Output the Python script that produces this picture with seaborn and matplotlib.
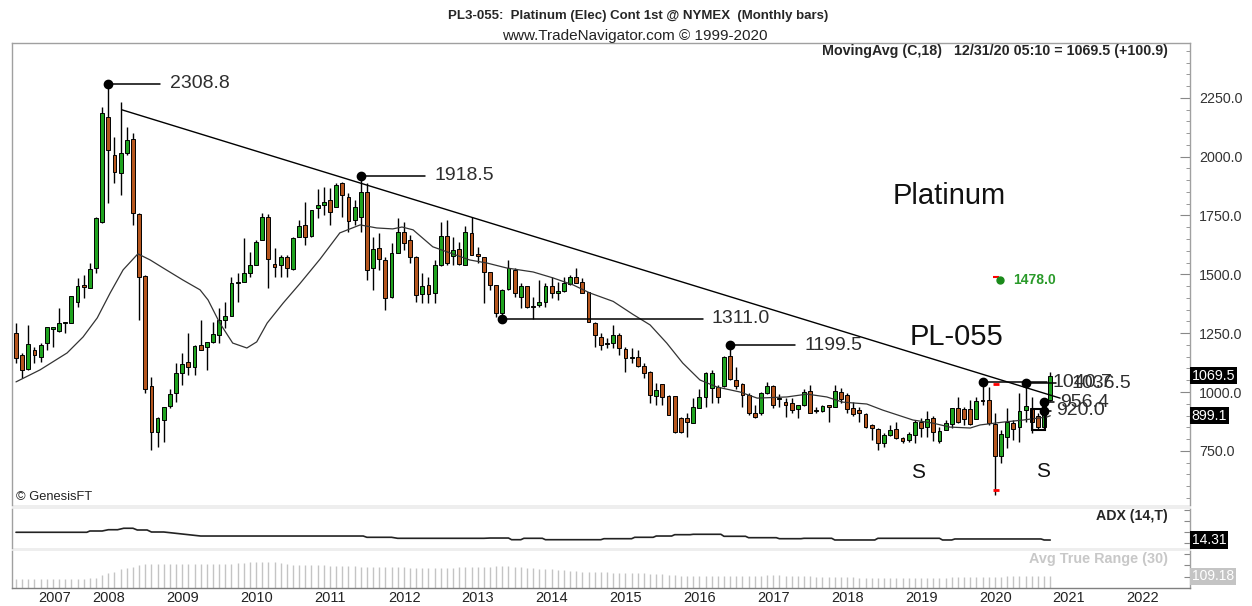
import matplotlib
matplotlib.use("Agg")
import matplotlib.pyplot as plt
from matplotlib.patches import Rectangle
from matplotlib.ticker import MultipleLocator
import seaborn as sns

sns.set_style("white")
plt.rcParams['font.family'] = ['Liberation Sans', 'DejaVu Sans']

# monthly bars, Dec 2006 .. Dec 2020
opens = [1251, 1157, 1098, 1178, 1149, 1208, 1268, 1259, 1293, 1293,
         1383, 1455, 1442, 1527, 1723, 2169, 2008, 1931, 2016, 2076,
         1757, 1493, 1026, 830, 881, 940, 996, 1081, 1127, 1106,
         1200, 1191, 1212, 1242, 1306, 1323, 1463, 1468, 1506, 1540,
         1646, 1744, 1544, 1540, 1574, 1523, 1659, 1710, 1663, 1782,
         1795, 1816, 1787, 1889, 1829, 1731, 1744, 1850, 1527, 1612,
         1561, 1404, 1591, 1680, 1646, 1574, 1417, 1455, 1421, 1540,
         1663, 1578, 1608, 1540, 1676, 1587, 1574, 1510, 1455, 1336,
         1438, 1519, 1404, 1451, 1366, 1370, 1383, 1451, 1421, 1429,
         1459, 1489, 1468, 1425, 1293, 1234, 1208, 1208, 1242, 1183,
         1145, 1149, 1111, 1085, 983, 1034, 983, 983, 889, 889,
         868, 932, 979, 1017, 1021, 1026, 1153, 1051, 1034, 987,
         911, 911, 996, 1026, 970, 957, 953, 928, 945, 1004,
         919, 919, 945, 936, 1000, 987, 932, 923, 906, 860,
         843, 783, 817, 843, 804, 796, 817, 872, 851, 889,
         792, 838, 864, 932, 928, 928, 885, 966, 966, 864,
         728, 809, 868, 851, 923, 932, 898, 851, 966]
highs = [1293, 1166, 1285, 1191, 1208, 1276, 1276, 1357, 1297, 1408,
         1485, 1497, 1548, 1744, 2212, 2308.8, 2084, 2233, 2127, 2101,
         1761, 1497, 1064, 894, 936, 1013, 1123, 1166, 1251, 1200,
         1306, 1212, 1298, 1357, 1383, 1489, 1506, 1655, 1595, 1646,
         1761, 1757, 1612, 1582, 1582, 1659, 1731, 1808, 1774, 1863,
         1872, 1867, 1889, 1893, 1846, 1816, 1918.5, 1889, 1659, 1676,
         1574, 1633, 1740, 1723, 1667, 1578, 1506, 1489, 1561, 1723,
         1731, 1659, 1638, 1706, 1744, 1616, 1574, 1510, 1455, 1438,
         1561, 1527, 1463, 1451, 1404, 1476, 1463, 1489, 1468, 1489,
         1497, 1527, 1485, 1425, 1298, 1251, 1229, 1285, 1251, 1191,
         1187, 1179, 1123, 1089, 1038, 1034, 987, 983, 894, 911,
         974, 1013, 1085, 1094, 1030, 1153, 1199.5, 1106, 1038, 996,
         945, 1000, 1043, 1030, 991, 974, 974, 945, 1013, 1030,
         936, 945, 945, 1030, 1017, 996, 957, 936, 911, 864,
         847, 826, 860, 872, 809, 830, 881, 889, 919, 898,
         851, 881, 932, 979, 936, 966, 979, 1040.7, 1021, 911,
         838, 932, 881, 996, 1036.5, 979, 911, 970, 1087]
lows = [1123, 1060, 1094, 1123, 1128, 1179, 1191, 1255, 1251, 1293,
        1361, 1400, 1442, 1506, 1719, 1804, 1889, 1838, 2008, 1710,
        1306, 996, 753, 766, 787, 930, 957, 1030, 1072, 1072,
        1179, 1094, 1208, 1208, 1272, 1323, 1383, 1468, 1489, 1540,
        1646, 1442, 1489, 1489, 1489, 1519, 1659, 1625, 1659, 1740,
        1753, 1710, 1787, 1744, 1680, 1710, 1680, 1476, 1434, 1519,
        1349, 1400, 1591, 1604, 1548, 1383, 1378, 1378, 1378, 1536,
        1540, 1540, 1540, 1540, 1582, 1548, 1378, 1434, 1320, 1311,
        1434, 1404, 1357, 1357, 1311, 1361, 1361, 1400, 1391, 1425,
        1455, 1463, 1421, 1298, 1191, 1179, 1187, 1187, 1157, 1085,
        1123, 1106, 1060, 953, 945, 945, 902, 826, 826, 809,
        868, 932, 936, 953, 953, 1021, 1051, 1013, 936, 902,
        889, 902, 991, 932, 936, 894, 911, 889, 940, 911,
        911, 915, 872, 936, 953, 911, 898, 872, 847, 796,
        753, 766, 813, 800, 783, 787, 783, 809, 809, 792,
        783, 838, 847, 868, 860, 860, 885, 945, 860, 562,
        698, 762, 796, 787, 872, 826, 838, 838, 962]
closes = [1145, 1093, 1204, 1157, 1200, 1276, 1276, 1293, 1297, 1408,
          1451, 1447, 1523, 1740, 2186, 2029, 1935, 2016, 2072, 1761,
          1489, 1013, 830, 889, 936, 991, 1081, 1119, 1106, 1196,
          1179, 1212, 1247, 1306, 1323, 1463, 1467, 1506, 1540, 1638,
          1744, 1566, 1531, 1574, 1527, 1655, 1706, 1659, 1774, 1795,
          1808, 1765, 1880, 1838, 1727, 1787, 1850, 1519, 1608, 1565,
          1400, 1591, 1680, 1633, 1574, 1412, 1451, 1417, 1540, 1663,
          1548, 1604, 1545, 1680, 1582, 1578, 1510, 1455, 1336, 1434,
          1527, 1421, 1451, 1361, 1362, 1383, 1451, 1421, 1429, 1463,
          1489, 1465, 1421, 1298, 1242, 1200, 1204, 1242, 1187, 1145,
          1145, 1111, 1081, 987, 1009, 979, 902, 830, 830, 872,
          936, 979, 1081, 1081, 979, 1149, 1055, 1026, 987, 911,
          894, 996, 1026, 945, 970, 945, 923, 945, 1000, 911,
          919, 940, 936, 1004, 970, 928, 906, 911, 851, 847,
          783, 817, 838, 804, 792, 821, 872, 847, 885, 830,
          834, 868, 932, 872, 885, 864, 962, 962, 868, 728,
          823, 872, 843, 919, 940, 872, 851, 966, 1069.5]

# 18-month moving average, read at points along the curve
ma_bars = [0, 3.9, 8.3, 10.9, 13.2, 15.3, 17.4, 19.8, 21.8, 23.9, 27.1, 29.9, 31.2,
           33.1, 35.2, 37.5, 39.1, 40.8, 43.4, 46.1, 49.4, 52.6, 55.9, 58.6, 61.2,
           62.7, 64.5, 67.7, 70.5, 73.7, 76.5, 79.7, 84.0, 87.2, 90.5, 93.2, 97.0,
           100.2, 103.0, 105.7, 108.3, 111.1, 113.9, 117.6, 120.4, 125.2, 128.5,
           131.7, 134.3, 138.2, 140.8, 145.7, 148.9, 151.7, 155.0, 156.6, 160.3,
           163.6, 167.5, 168]
ma_vals = [1043, 1094, 1166, 1234, 1315, 1421, 1519, 1587, 1561, 1527, 1476, 1434, 1391,
           1293, 1208, 1187, 1213, 1293, 1378, 1460, 1565, 1676, 1710, 1697, 1693,
           1701, 1689, 1617, 1591, 1561, 1548, 1527, 1510, 1485, 1455, 1421, 1385,
           1330, 1285, 1208, 1123, 1051, 1021, 1000, 974, 979, 991,
           979, 957, 949, 923, 881, 868, 851, 847, 860, 872,
           881, 894, 899.1]

# ADX (14,T)
adx_bars = [0, 11.5, 12, 14, 15, 16.5, 17.5, 19, 19.7, 21.3, 22, 24, 30, 56.4, 57, 61,
            62, 76, 77, 80, 80.5, 82, 82.5, 85.5, 86, 95, 95.5, 100, 100.5, 103.5, 104,
            106.5, 107, 109.5, 110, 114.5, 115, 118.5, 119, 123.5, 124, 127.5, 128,
            132.5, 133, 139.5, 140, 150, 150.5, 152, 152.5, 166.5, 167, 168]
adx_vals = [28.2, 28.2, 30.5, 30.5, 32.8, 32.8, 35.4, 35.4, 32.3, 32.3, 28.7, 28.7, 21.5,
            21.5, 19.2, 19.2, 17.4, 17.4, 17.9, 17.9, 14.9, 14.9, 17.4, 17.4, 14.9, 14.9,
            16.7, 16.7, 19.2, 19.2, 21.5, 21.5, 23.9, 23.9, 24.6, 24.6, 21.0, 21.0, 18.5,
            18.5, 16.7, 16.7, 17.4, 17.4, 14.4, 14.4, 17.4, 17.4, 14.4, 14.4, 16.2, 16.2,
            14.4, 14.31]

# Avg True Range (30), one per bar
atr = [86, 86, 88, 88, 86, 86, 88, 88, 88, 86, 88, 88, 90, 92,
       119, 139, 149, 179, 189, 199,
       222, 225, 228, 228, 228, 230, 228, 228, 226, 226, 228, 230, 230, 228, 228, 230, 232, 238,
       244, 248, 248, 246, 244,
       238,
       226, 222, 220, 218, 218, 216, 216, 212,
       208, 206, 204, 204, 202, 202, 200, 200, 198, 198,
       194, 194, 192, 192, 192, 190, 190, 192, 192, 192, 194, 196, 198, 198, 200, 202, 204, 206,
       210,
       200, 196, 192, 188, 184,
       178, 176, 174, 168,
       160, 156, 154, 152, 150, 150, 148, 146,
       142, 140, 139, 139, 138, 136, 134, 130, 126, 122,
       116, 114, 112, 112, 112, 112, 112, 112, 112, 114, 116, 118,
       118, 118, 119, 119, 119, 118, 116, 114, 112, 110, 108, 106,
       104, 102, 100, 100, 100, 98, 98, 98, 98, 96, 96, 96, 96, 96, 98, 98, 98, 98, 98, 98,
       100, 100, 100, 100, 102, 102, 102, 104, 106,
       110, 112, 114, 116, 118, 118, 116, 109.18]

# price call-outs: dot bar, value, end of leader line, text position
callout_bars = [15, 56, 79, 116, 157, 164, 167, 167]
callout_vals = [2308.8, 1918.5, 1311.0, 1199.5, 1040.7, 1036.5, 956.4, 920.0]
callout_line_end = [23.4, 66.4, 111.6, 126.5, 167.5, 169.0, 168.6, 168.2]
callout_text_x = [25, 68, 113, 128, 168.3, 171.5, 169.6, 169.0]

trend_bars = [17.2, 169.6]
trend_vals = [2199, 974]

year_labels = ['2007', '2008', '2009', '2010', '2011', '2012', '2013', '2014',
               '2015', '2016', '2017', '2018', '2019', '2020', '2021', '2022']
year_pos = [3.6, 12.4, 24.4, 36.4, 48.4, 60.4, 72.4, 84.4, 96.4, 108.4, 120.4,
            132.4, 144.4, 156.4, 168.4, 180.4]
price_ticks = [750, 1000, 1250, 1500, 1750, 2000, 2250]

GREEN = '#1fa31f'
RED = '#b5561e'
FRAME = '#a0a0a0'

bars = list(range(len(closes)))

fig = plt.figure(figsize=(12.52, 6.06), dpi=100)
ax = fig.add_axes([0.00958, 0.1667, 0.9409, 0.7624])
ax_adx = fig.add_axes([0.00958, 0.0957, 0.9409, 0.0644], sharex=ax)
ax_atr = fig.add_axes([0.00958, 0.0297, 0.9409, 0.0611], sharex=ax)

# candles
colors = [GREEN if c >= o else RED for o, c in zip(opens, closes)]
bottoms = [min(o, c) for o, c in zip(opens, closes)]
heights = [max(abs(c - o), 4) for o, c in zip(opens, closes)]
ax.vlines(bars, lows, highs, color='black', linewidth=1.0, zorder=2)
ax.bar(bars, heights, bottom=bottoms, width=0.62, color=colors,
       edgecolor='black', linewidth=0.7, zorder=3)

# moving average and trend line
sns.lineplot(x=ma_bars, y=ma_vals, ax=ax, color='#333333', linewidth=0.9, zorder=4)
ax.plot(trend_bars, trend_vals, color='black', linewidth=1.0, zorder=4)

# call-outs (the last four overlap on the original chart as well)
for b, v, le, tx in zip(callout_bars, callout_vals, callout_line_end, callout_text_x):
    ax.plot([b, le], [v, v], color='black', linewidth=1.1, zorder=5)
    ax.plot(b, v, 'o', color='black', markersize=6, zorder=6)
    ax.text(tx, v, f'{v:.1f}', fontsize=14, color='#2e2e2e', ha='left', va='center', zorder=6)

ax.add_patch(Rectangle((165.0, 840), 2.2, 88, fill=False, edgecolor='black',
                       linewidth=1.5, zorder=6))
ax.hlines([1034, 583], 158.7, 159.7, color='red', linewidth=2, zorder=6)
ax.hlines([1489], 158.7, 159.6, color='red', linewidth=1.5, zorder=6)
ax.plot(159.9, 1476, 'o', color='#1a8a1a', markersize=5, zorder=6)
ax.text(161.9, 1476, '1478.0', fontsize=10, fontweight='bold', color='#2a9a2a',
        ha='left', va='center')

ax.text(142.4, 1833, 'Platinum', fontsize=21, ha='left', va='center', color='#111')
ax.text(145.2, 1234, 'PL-055', fontsize=21, ha='left', va='center', color='#111')
ax.text(146.5, 656, 'S', fontsize=15, ha='center', va='center', color='#111')
ax.text(166.8, 664, 'S', fontsize=15, ha='center', va='center', color='#111')
ax.text(0, 554, '\u00a9 GenesisFT', fontsize=9.3, ha='left', va='center', color='#222')

ax.set_xlim(-0.65, 190.7)
ax.set_ylim(520, 2483)
ax.yaxis.tick_right()
ax.set_yticks(price_ticks)
ax.set_yticklabels([f'{t:.1f}' for t in price_ticks])
ax.yaxis.set_minor_locator(MultipleLocator(50))
ax.tick_params(axis='y', which='major', direction='in', length=7, color='#888',
               labelsize=10.3, labelcolor='#333', pad=6.5, right=True)
ax.tick_params(axis='y', which='minor', direction='in', length=3, color='#888', right=True)
ax.tick_params(axis='x', bottom=False, labelbottom=False)

yt = ax.get_yaxis_transform()
for val, txt in [(1069.5, '1069.5'), (899.1, '899.1')]:
    ax.text(1.0015, val, txt, transform=yt, ha='left', va='center', color='white',
            fontsize=10.3, clip_on=False,
            bbox=dict(boxstyle='square,pad=0.12', fc='black', ec='none'))

# ADX panel
sns.lineplot(x=adx_bars, y=adx_vals, ax=ax_adx, color='#222222', linewidth=1.2)
ax_adx.set_ylim(0, 70)
ax_adx.yaxis.tick_right()
ax_adx.set_yticks([9, 28.7, 48.5, 68.2])
ax_adx.set_yticklabels([])
ax_adx.tick_params(axis='y', direction='in', length=4, color='#888', right=True)
ax_adx.tick_params(axis='x', bottom=False, labelbottom=False)
ax_adx.text(0.9813, 0.82, 'ADX (14,T)', transform=ax_adx.transAxes, ha='right',
            va='center', fontsize=10.2, fontweight='bold')
ax_adx.text(1.0015, 14.31, '14.31', transform=ax_adx.get_yaxis_transform(), ha='left',
            va='center', color='white', fontsize=10, clip_on=False,
            bbox=dict(boxstyle='square,pad=0.12', fc='black', ec='none'))

# ATR panel
ax_atr.vlines(bars, 0, atr, color='#c4c4c4', linewidth=1.0)
ax_atr.set_ylim(0, 350)
ax_atr.yaxis.tick_right()
ax_atr.set_yticks([102, 218, 318])
ax_atr.set_yticklabels([])
ax_atr.tick_params(axis='y', direction='in', length=4, color='#888', right=True)
ax_atr.text(0.9813, 0.78, 'Avg True Range (30)', transform=ax_atr.transAxes, ha='right',
            va='center', fontsize=10.4, fontweight='bold', color='#c8c8c8')
ax_atr.text(1.0015, 109.18, '109.18', transform=ax_atr.get_yaxis_transform(), ha='left',
            va='center', color='white', fontsize=10, clip_on=False,
            bbox=dict(boxstyle='square,pad=0.12', fc='#c4c4c4', ec='none'))
ax_atr.set_xticks(year_pos)
ax_atr.set_xticklabels(year_labels)
ax_atr.tick_params(axis='x', length=0, labelsize=10.5, labelcolor='#222', pad=2, bottom=True,
                   labelbottom=True)
for lbl in ax_atr.get_xticklabels():
    lbl.set_horizontalalignment('left')

for a in (ax, ax_adx, ax_atr):
    a.set_xlabel('')
    a.set_ylabel('')
    for s in a.spines.values():
        s.set_color(FRAME)
        s.set_linewidth(1.0)
ax.spines['bottom'].set_visible(False)
ax_adx.spines['top'].set_visible(False)
ax_adx.spines['bottom'].set_visible(False)
ax_atr.spines['top'].set_visible(False)
ax_atr.spines['bottom'].set_color('#808080')

# light separators between panels
fig.add_artist(Rectangle((0.00958, 0.1601), 0.9409, 0.0066, transform=fig.transFigure,
                         color='#eeeeee', zorder=0))
fig.add_artist(Rectangle((0.00958, 0.0908), 0.9409, 0.0050, transform=fig.transFigure,
                         color='#eeeeee', zorder=0))

fig.text(0.510, 0.9736, 'PL3-055:  Platinum (Elec) Cont 1st @ NYMEX  (Monthly bars)',
         ha='center', va='center', fontsize=9.5, fontweight='bold')
fig.text(0.507, 0.9406, 'www.TradeNavigator.com \u00a9 1999-2020', ha='center', va='center',
         fontsize=11, color='#222')
fig.text(0.9329, 0.9158, 'MovingAvg (C,18)   12/31/20 05:10 = 1069.5 (+100.9)', ha='right',
         va='center', fontsize=10.3, fontweight='bold')

fig.savefig('out.png', dpi=100)
